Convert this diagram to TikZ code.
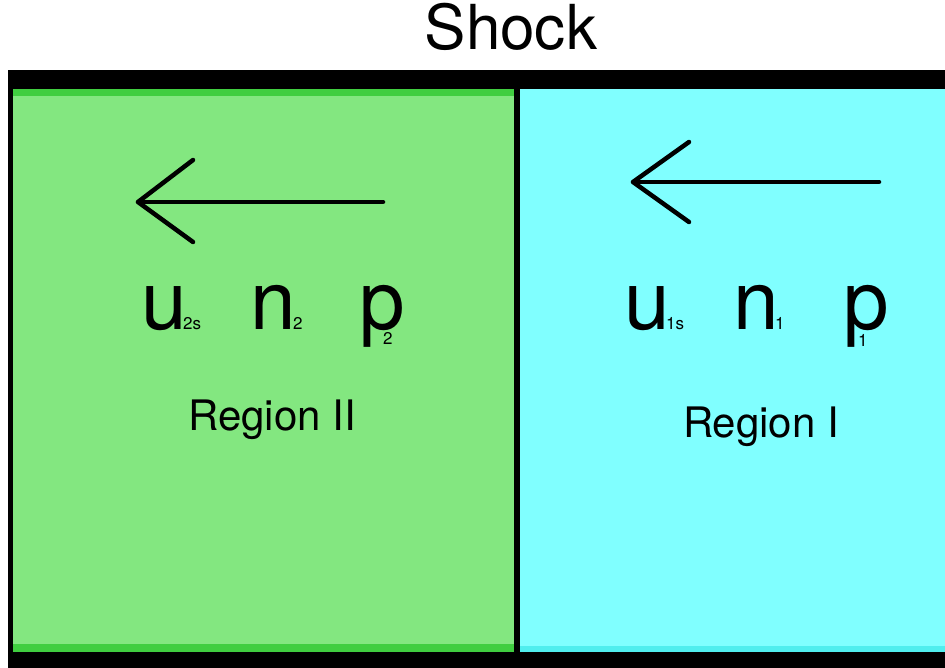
\documentclass[tikz,border=0pt]{standalone}
\usepackage{fontspec}
\setmainfont{TeX Gyre Heros}
\definecolor{lgreen}{RGB}{131,231,128}
\definecolor{dgreen}{RGB}{64,206,64}
\definecolor{lcyan}{RGB}{128,255,255}
\definecolor{dcyan}{RGB}{80,238,238}
\newcommand{\smallsub}[1]{{\fontsize{17}{17}\selectfont #1}}
\begin{document}
\begin{tikzpicture}[x=1pt,y=-1pt,
  big/.style={inner sep=0pt,anchor=base west,font=\fontsize{82}{82}\selectfont},
  lbl/.style={inner sep=0pt,anchor=base,font=\fontsize{42}{42}\selectfont},
  arr/.style={line width=4.5pt,line cap=round,line join=round}]
\useasboundingbox (0,0) rectangle (945,668);
\fill[white] (0,0) rectangle (945,668);
% frame
\fill[black] (8,70) rectangle (945,668);
\fill[lgreen] (13,89) rectangle (514,652);
\fill[dgreen] (13,89) rectangle (514,96);
\fill[dgreen] (13,644) rectangle (514,652);
\fill[lcyan] (520,89) rectangle (945,652);
\fill[dcyan] (520,646) rectangle (945,652);
% title
\node[inner sep=0pt,anchor=base,font=\fontsize{62}{62}\selectfont] (title) at (511,50) {Shock};
% left arrow
\coordinate (lt) at (383,202);
\coordinate (lh) at (138,202);
\coordinate (lu) at (193,160);
\coordinate (ld) at (193,242);
\draw[arr] (lt) -- (lh);
\draw[arr] (lu) -- (lh) -- (ld);
% right arrow
\coordinate (rt) at (879,182);
\coordinate (rh) at (633,182);
\coordinate (ru) at (689,142);
\coordinate (rd) at (689,222);
\draw[arr] (rt) -- (rh);
\draw[arr] (ru) -- (rh) -- (rd);
% left variables
\node[big] (u2) at (141,330) {u\kern-3.6pt\smallsub{2s}};
\node[big] (n2) at (250,330) {n\kern-2.6pt\smallsub{2}};
\node[big] (p2) at (359,330) {p\kern-21.6pt\raisebox{-15pt}{\smallsub{2}}};
\node[lbl] (reg2) at (272,430) {Region II};
% right variables
\node[big] (u1) at (624,330) {u\kern-3.6pt\smallsub{1s}};
\node[big] (n1) at (733,330) {n\kern-3.6pt\smallsub{1}};
\node[big] (p1) at (843,330) {p\kern-30.6pt\raisebox{-17pt}{\smallsub{1}}};
\node[lbl] (reg1) at (761,437) {Region I};
\end{tikzpicture}
\end{document}
